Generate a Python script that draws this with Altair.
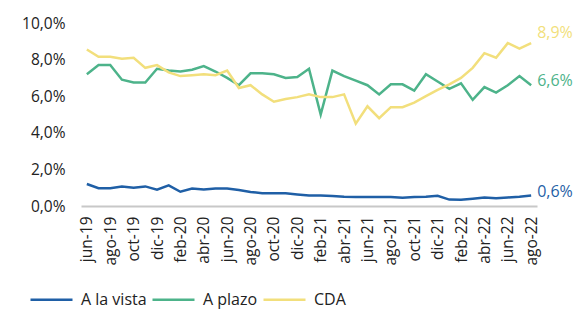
import altair as alt
import pandas as pd

months = ["jun-19", "jul-19", "ago-19", "sep-19", "oct-19", "nov-19", "dic-19",
          "ene-20", "feb-20", "mar-20", "abr-20", "may-20", "jun-20", "jul-20",
          "ago-20", "sep-20", "oct-20", "nov-20", "dic-20", "ene-21", "feb-21",
          "mar-21", "abr-21", "may-21", "jun-21", "jul-21", "ago-21", "sep-21",
          "oct-21", "nov-21", "dic-21", "ene-22", "feb-22", "mar-22", "abr-22",
          "may-22", "jun-22", "jul-22", "ago-22"]

a_la_vista = [1.20, 0.97, 0.97, 1.06, 1.00, 1.07, 0.89, 1.13, 0.78, 0.95,
              0.90, 0.95, 0.95, 0.87, 0.77, 0.70, 0.70, 0.69, 0.63, 0.58,
              0.58, 0.55, 0.50, 0.49, 0.49, 0.49, 0.49, 0.45, 0.49, 0.50,
              0.56, 0.35, 0.34, 0.40, 0.46, 0.42, 0.47, 0.50, 0.57]

a_plazo = [7.20, 7.70, 7.70, 6.90, 6.75, 6.75, 7.50, 7.40, 7.35, 7.45,
           7.65, 7.35, 7.00, 6.60, 7.25, 7.25, 7.20, 7.00, 7.05, 7.50,
           5.00, 7.40, 7.10, 6.85, 6.60, 6.10, 6.65, 6.65, 6.30, 7.20,
           6.80, 6.40, 6.70, 5.80, 6.50, 6.20, 6.60, 7.10, 6.60]

cda = [8.55, 8.15, 8.15, 8.05, 8.10, 7.55, 7.70, 7.30, 7.10, 7.15,
       7.20, 7.15, 7.40, 6.45, 6.60, 6.10, 5.70, 5.85, 5.95, 6.10,
       5.95, 5.95, 6.10, 4.50, 5.45, 4.80, 5.40, 5.40, 5.65, 6.00,
       6.35, 6.65, 7.00, 7.55, 8.35, 8.10, 8.90, 8.60, 8.90]

series_names = ["A la vista", "A plazo", "CDA"]
series_values = [a_la_vista, a_plazo, cda]
colors = ["#1F5FA6", "#4DB38A", "#F2DF7C"]
label_dy = [-4, -4, -10]
tick_months = months[::2]
y_ticks = [0, 2, 4, 6, 8, 10]

rows = []
for name, vals in zip(series_names, series_values):
    for m, v in zip(months, vals):
        rows.append({"mes": m, "serie": name, "valor": v})
df = pd.DataFrame(rows)

FONT = "Open Sans"

x_axis = alt.Axis(values=tick_months, labelAngle=270, title=None,
                  ticks=False, labelPadding=10, labelFontSize=15.5,
                  labelColor="#222222", labelFont=FONT,
                  domainColor="#C8C8C8", domainWidth=2,
                  labelOverlap=False)
y_axis = alt.Axis(values=y_ticks, title=None, grid=False, domain=False,
                  ticks=False, labelPadding=16, labelFontSize=15.5,
                  labelColor="#222222", labelFont=FONT,
                  labelOverlap=False, labelFlush=False,
                  labelExpr="replace(format(datum.value, '.1f'), '.', ',') + '%'")
x_scale = alt.Scale(type="point", padding=0.5)
y_scale = alt.Scale(domain=[0, 10], nice=False)

color_enc = alt.Color("serie:N",
                      scale=alt.Scale(domain=series_names, range=colors),
                      legend=alt.Legend(title=None, orient="none", direction="horizontal",
                                        legendX=-52, legendY=254,
                                        symbolType="stroke", symbolSize=1764,
                                        symbolStrokeWidth=2.5, labelOffset=7,
                                        columnPadding=0, labelFontSize=16,
                                        labelFont=FONT, labelColor="#222222"))

lines = alt.Chart(df).mark_line(strokeWidth=2.5).encode(
    x=alt.X("mes:O", sort=months, scale=x_scale, axis=x_axis),
    y=alt.Y("valor:Q", scale=y_scale, axis=y_axis),
    color=color_enc, detail="serie:N")

layers = [lines]
for name, col, dy in zip(series_names, colors, label_dy):
    last = df[(df["serie"] == name) & (df["mes"] == months[-1])]
    txt = alt.Chart(last).mark_text(align="left", baseline="middle", dx=6, dy=dy,
                                    fontSize=16, font=FONT, color=col).encode(
        x=alt.X("mes:O", sort=months, scale=x_scale, axis=x_axis),
        y=alt.Y("valor:Q", scale=y_scale, axis=y_axis),
        text=alt.Text("lbl:N")
    ).transform_calculate(
        lbl="replace(format(datum.valor, '.1f'), '.', ',') + '%'"
    )
    layers.append(txt)

chart = alt.layer(*layers).properties(
    width=456, height=183,
    background="white",
    autosize=alt.AutoSizeParams(type="none"),
    padding={"left": 81, "top": 23, "right": 49, "bottom": 115}
).configure_view(stroke=None).configure_axis(labelOverlap=False)

chart.save("out.html", embed_options={"renderer": "svg", "actions": False})
